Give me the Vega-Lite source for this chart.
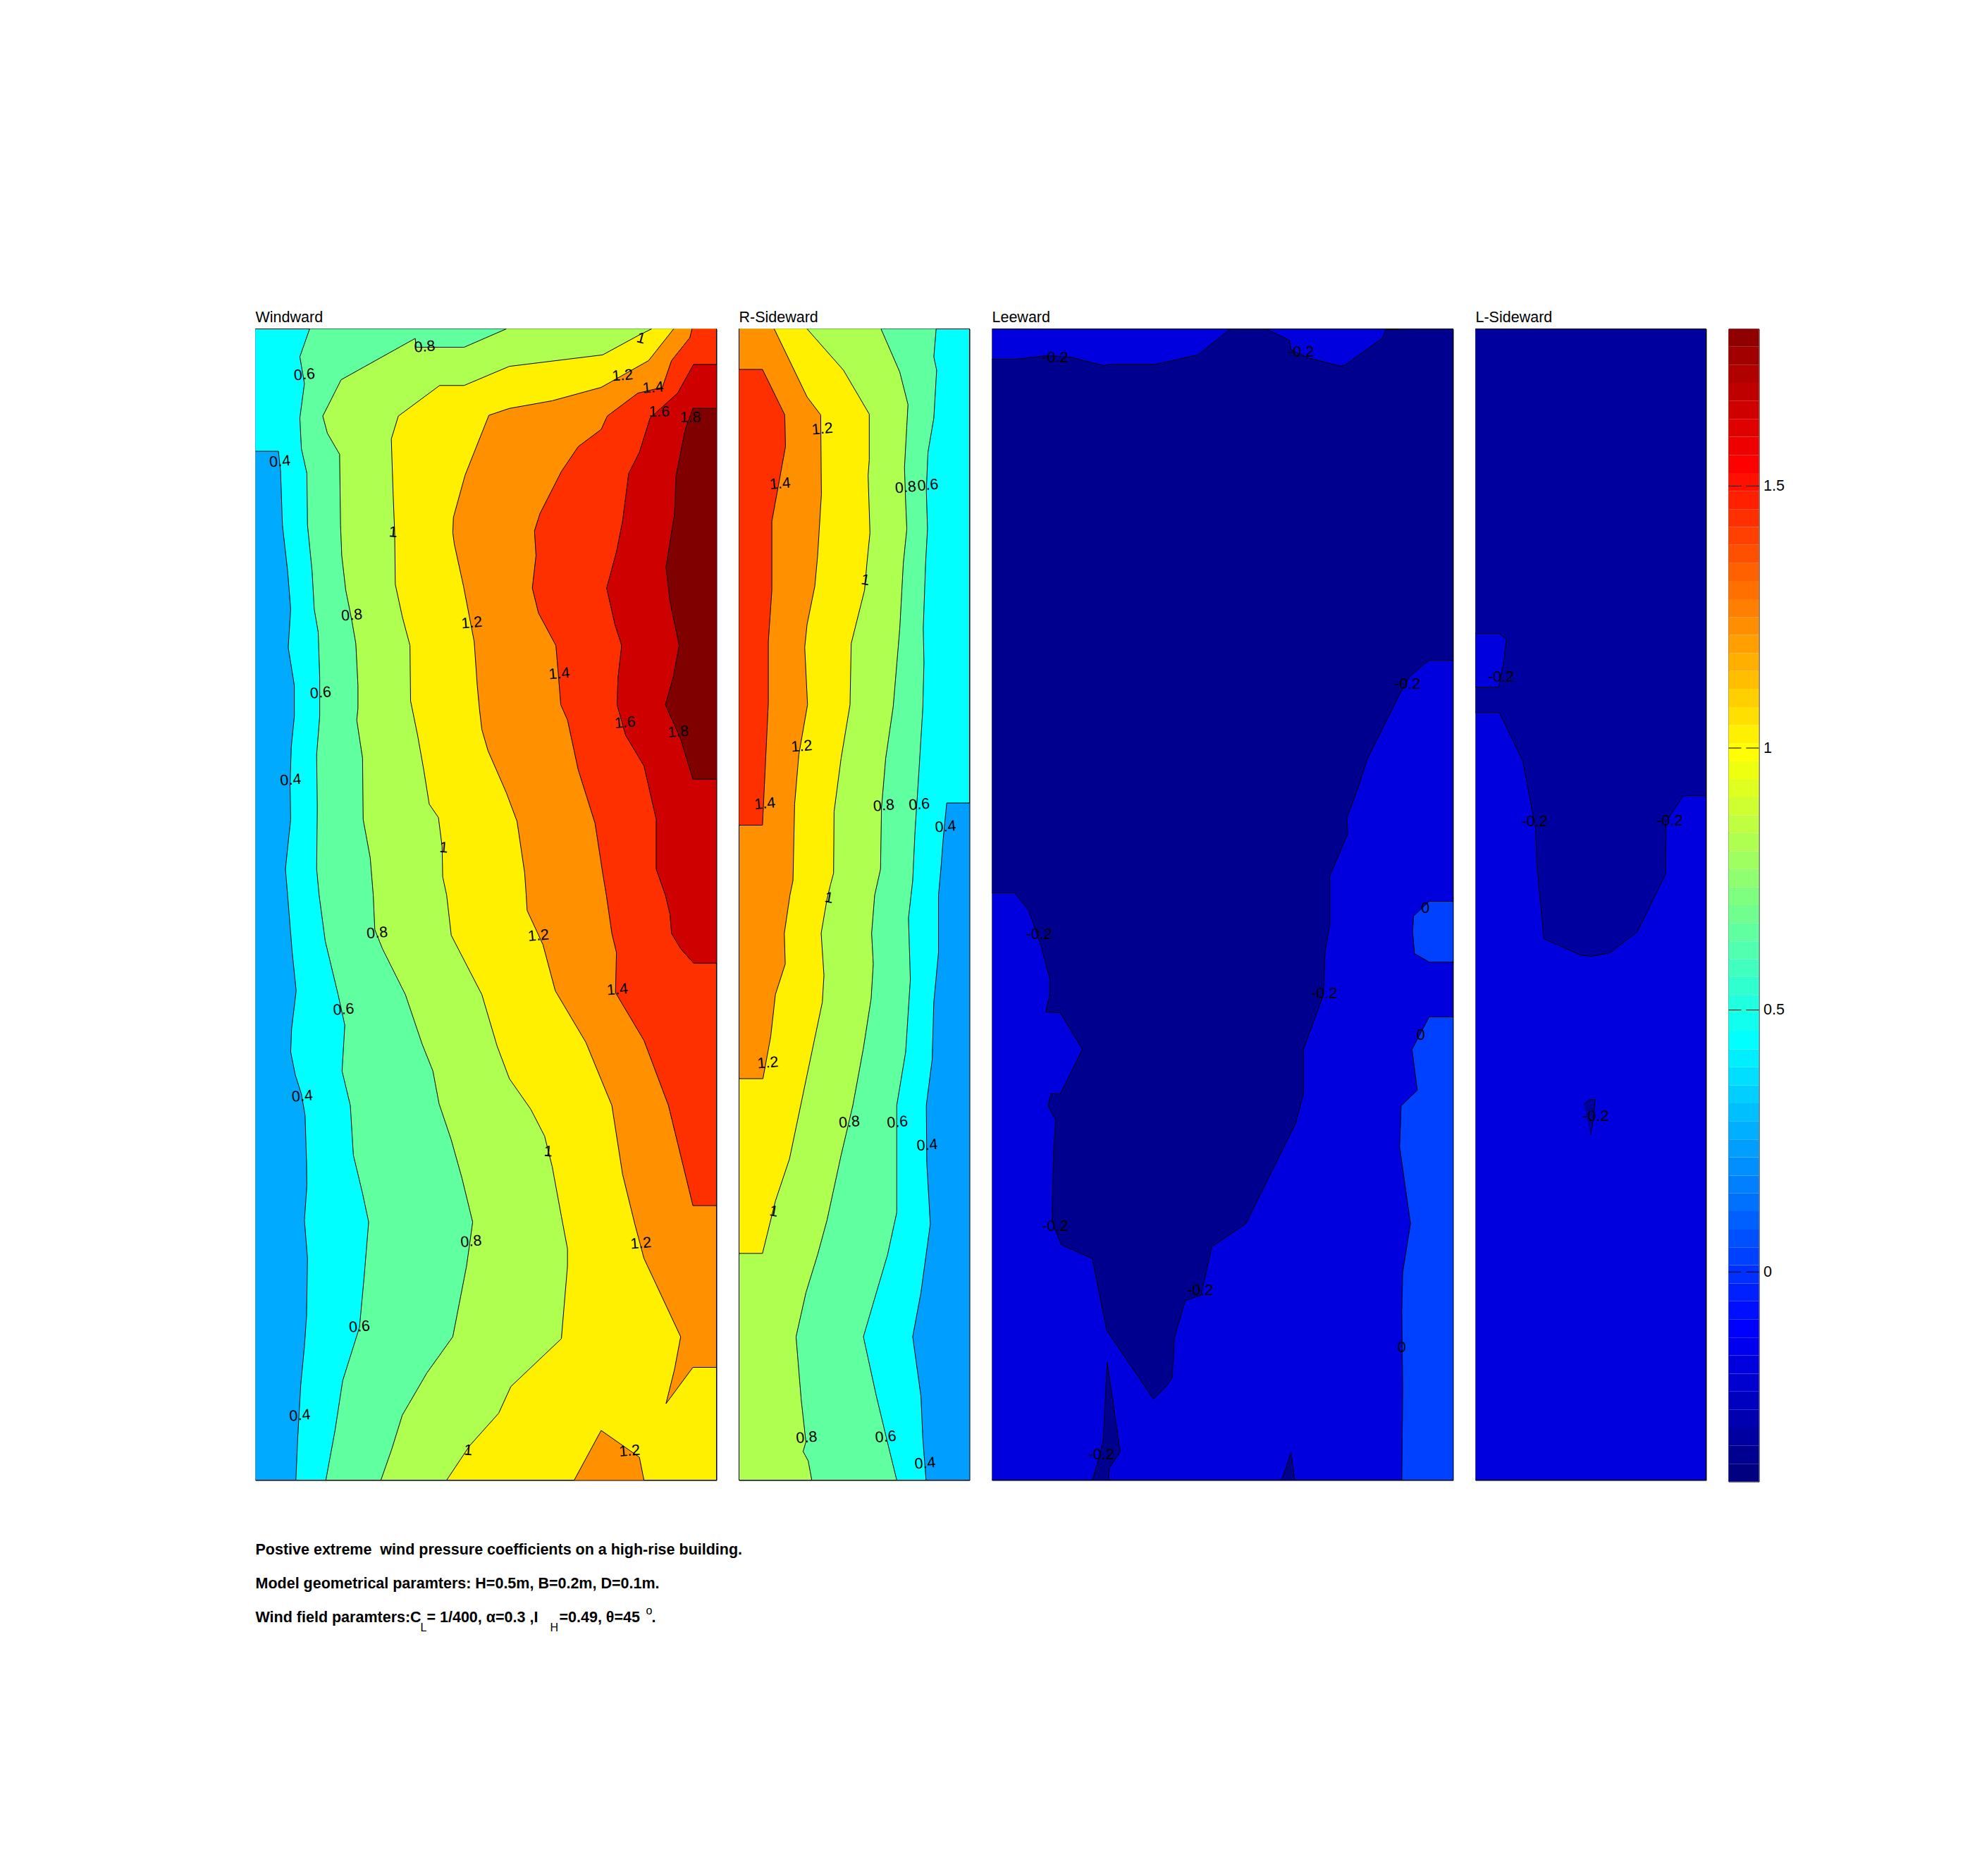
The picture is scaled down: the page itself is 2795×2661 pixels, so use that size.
{"$schema":"https://vega.github.io/schema/vega-lite/v6.json","background":"white","padding":{"left":359.5,"top":439.5,"right":0,"bottom":0},"config":{"font":"Liberation Sans","view":{"stroke":"#000","strokeWidth":1},"title":{"font":"Liberation Sans","fontSize":21.5,"fontWeight":"normal","anchor":"start","frame":"group","offset":3,"color":"#000"}},
"datasets":{
"windward":[
{"p":0,"l":0.2,"x":0,"y":0},{"p":0,"l":0.2,"x":1507,"y":0},{"p":0,"l":0.2,"x":1507,"y":3011},{"p":0,"l":0.2,"x":0,"y":3011},
{"p":1,"l":0.4,"x":0,"y":320},{"p":1,"l":0.4,"x":75,"y":320},{"p":1,"l":0.4,"x":82,"y":373},{"p":1,"l":0.4,"x":88,"y":513},{"p":1,"l":0.4,"x":105,"y":633},{"p":1,"l":0.4,"x":115,"y":733},{"p":1,"l":0.4,"x":107,"y":833},{"p":1,"l":0.4,"x":127,"y":933},{"p":1,"l":0.4,"x":127,"y":1013},{"p":1,"l":0.4,"x":117,"y":1093},{"p":1,"l":0.4,"x":113,"y":1193},{"p":1,"l":0.4,"x":115,"y":1283},{"p":1,"l":0.4,"x":103,"y":1373},{"p":1,"l":0.4,"x":98,"y":1413},{"p":1,"l":0.4,"x":105,"y":1481},{"p":1,"l":0.4,"x":120,"y":1631},{"p":1,"l":0.4,"x":133,"y":1731},{"p":1,"l":0.4,"x":118,"y":1831},{"p":1,"l":0.4,"x":115,"y":1891},{"p":1,"l":0.4,"x":130,"y":1951},{"p":1,"l":0.4,"x":150,"y":2001},{"p":1,"l":0.4,"x":162,"y":2056},{"p":1,"l":0.4,"x":167,"y":2181},{"p":1,"l":0.4,"x":168,"y":2241},{"p":1,"l":0.4,"x":160,"y":2331},{"p":1,"l":0.4,"x":170,"y":2431},{"p":1,"l":0.4,"x":167,"y":2581},{"p":1,"l":0.4,"x":160,"y":2661},{"p":1,"l":0.4,"x":148,"y":2761},{"p":1,"l":0.4,"x":138,"y":2901},{"p":1,"l":0.4,"x":132,"y":3011},{"p":1,"l":0.4,"x":1507,"y":3011},{"p":1,"l":0.4,"x":1507,"y":0},{"p":1,"l":0.4,"x":0,"y":0},
{"p":2,"l":0.6,"x":177,"y":0},{"p":2,"l":0.6,"x":145,"y":73},{"p":2,"l":0.6,"x":160,"y":143},{"p":2,"l":0.6,"x":145,"y":233},{"p":2,"l":0.6,"x":150,"y":313},{"p":2,"l":0.6,"x":168,"y":378},{"p":2,"l":0.6,"x":170,"y":513},{"p":2,"l":0.6,"x":185,"y":633},{"p":2,"l":0.6,"x":192,"y":733},{"p":2,"l":0.6,"x":205,"y":793},{"p":2,"l":0.6,"x":210,"y":913},{"p":2,"l":0.6,"x":210,"y":1013},{"p":2,"l":0.6,"x":200,"y":1113},{"p":2,"l":0.6,"x":202,"y":1253},{"p":2,"l":0.6,"x":200,"y":1413},{"p":2,"l":0.6,"x":208,"y":1481},{"p":2,"l":0.6,"x":228,"y":1601},{"p":2,"l":0.6,"x":270,"y":1741},{"p":2,"l":0.6,"x":292,"y":1821},{"p":2,"l":0.6,"x":283,"y":1941},{"p":2,"l":0.6,"x":310,"y":2031},{"p":2,"l":0.6,"x":320,"y":2161},{"p":2,"l":0.6,"x":350,"y":2261},{"p":2,"l":0.6,"x":370,"y":2336},{"p":2,"l":0.6,"x":355,"y":2481},{"p":2,"l":0.6,"x":340,"y":2611},{"p":2,"l":0.6,"x":285,"y":2751},{"p":2,"l":0.6,"x":260,"y":2881},{"p":2,"l":0.6,"x":230,"y":3011},{"p":2,"l":0.6,"x":1507,"y":3011},{"p":2,"l":0.6,"x":1507,"y":0},
{"p":3,"l":0.8,"x":820,"y":0},{"p":3,"l":0.8,"x":682,"y":48},{"p":3,"l":0.8,"x":525,"y":48},{"p":3,"l":0.8,"x":522,"y":25},{"p":3,"l":0.8,"x":280,"y":133},{"p":3,"l":0.8,"x":220,"y":228},{"p":3,"l":0.8,"x":235,"y":273},{"p":3,"l":0.8,"x":275,"y":328},{"p":3,"l":0.8,"x":278,"y":513},{"p":3,"l":0.8,"x":282,"y":593},{"p":3,"l":0.8,"x":295,"y":683},{"p":3,"l":0.8,"x":315,"y":763},{"p":3,"l":0.8,"x":328,"y":823},{"p":3,"l":0.8,"x":335,"y":933},{"p":3,"l":0.8,"x":335,"y":993},{"p":3,"l":0.8,"x":331,"y":1023},{"p":3,"l":0.8,"x":350,"y":1123},{"p":3,"l":0.8,"x":352,"y":1283},{"p":3,"l":0.8,"x":375,"y":1383},{"p":3,"l":0.8,"x":385,"y":1481},{"p":3,"l":0.8,"x":390,"y":1571},{"p":3,"l":0.8,"x":415,"y":1621},{"p":3,"l":0.8,"x":490,"y":1741},{"p":3,"l":0.8,"x":545,"y":1871},{"p":3,"l":0.8,"x":580,"y":1941},{"p":3,"l":0.8,"x":600,"y":2026},{"p":3,"l":0.8,"x":640,"y":2121},{"p":3,"l":0.8,"x":675,"y":2221},{"p":3,"l":0.8,"x":710,"y":2336},{"p":3,"l":0.8,"x":690,"y":2451},{"p":3,"l":0.8,"x":645,"y":2636},{"p":3,"l":0.8,"x":560,"y":2731},{"p":3,"l":0.8,"x":480,"y":2841},{"p":3,"l":0.8,"x":445,"y":2931},{"p":3,"l":0.8,"x":410,"y":3011},{"p":3,"l":0.8,"x":1507,"y":3011},{"p":3,"l":0.8,"x":1507,"y":0},
{"p":4,"l":1,"x":1295,"y":0},{"p":4,"l":1,"x":1250,"y":18},{"p":4,"l":1,"x":1135,"y":68},{"p":4,"l":1,"x":830,"y":98},{"p":4,"l":1,"x":682,"y":148},{"p":4,"l":1,"x":602,"y":148},{"p":4,"l":1,"x":467,"y":228},{"p":4,"l":1,"x":444,"y":288},{"p":4,"l":1,"x":450,"y":433},{"p":4,"l":1,"x":455,"y":533},{"p":4,"l":1,"x":457,"y":668},{"p":4,"l":1,"x":480,"y":753},{"p":4,"l":1,"x":505,"y":828},{"p":4,"l":1,"x":507,"y":973},{"p":4,"l":1,"x":530,"y":1063},{"p":4,"l":1,"x":550,"y":1153},{"p":4,"l":1,"x":568,"y":1243},{"p":4,"l":1,"x":598,"y":1278},{"p":4,"l":1,"x":610,"y":1353},{"p":4,"l":1,"x":612,"y":1433},{"p":4,"l":1,"x":625,"y":1481},{"p":4,"l":1,"x":640,"y":1586},{"p":4,"l":1,"x":740,"y":1741},{"p":4,"l":1,"x":790,"y":1876},{"p":4,"l":1,"x":830,"y":1961},{"p":4,"l":1,"x":900,"y":2041},{"p":4,"l":1,"x":945,"y":2111},{"p":4,"l":1,"x":970,"y":2191},{"p":4,"l":1,"x":1000,"y":2321},{"p":4,"l":1,"x":1020,"y":2406},{"p":4,"l":1,"x":1020,"y":2451},{"p":4,"l":1,"x":1000,"y":2641},{"p":4,"l":1,"x":835,"y":2766},{"p":4,"l":1,"x":795,"y":2836},{"p":4,"l":1,"x":700,"y":2921},{"p":4,"l":1,"x":625,"y":3011},{"p":4,"l":1,"x":1507,"y":3011},{"p":4,"l":1,"x":1507,"y":0},
{"p":5,"l":1.2,"x":1367,"y":0},{"p":5,"l":1.2,"x":1285,"y":83},{"p":5,"l":1.2,"x":1130,"y":153},{"p":5,"l":1.2,"x":970,"y":188},{"p":5,"l":1.2,"x":830,"y":208},{"p":5,"l":1.2,"x":763,"y":226},{"p":5,"l":1.2,"x":685,"y":383},{"p":5,"l":1.2,"x":647,"y":493},{"p":5,"l":1.2,"x":645,"y":533},{"p":5,"l":1.2,"x":650,"y":563},{"p":5,"l":1.2,"x":680,"y":673},{"p":5,"l":1.2,"x":715,"y":818},{"p":5,"l":1.2,"x":725,"y":933},{"p":5,"l":1.2,"x":732,"y":993},{"p":5,"l":1.2,"x":740,"y":1048},{"p":5,"l":1.2,"x":760,"y":1103},{"p":5,"l":1.2,"x":820,"y":1213},{"p":5,"l":1.2,"x":855,"y":1288},{"p":5,"l":1.2,"x":880,"y":1423},{"p":5,"l":1.2,"x":885,"y":1481},{"p":5,"l":1.2,"x":888,"y":1521},{"p":5,"l":1.2,"x":940,"y":1611},{"p":5,"l":1.2,"x":980,"y":1731},{"p":5,"l":1.2,"x":1080,"y":1866},{"p":5,"l":1.2,"x":1165,"y":2031},{"p":5,"l":1.2,"x":1200,"y":2211},{"p":5,"l":1.2,"x":1240,"y":2341},{"p":5,"l":1.2,"x":1270,"y":2431},{"p":5,"l":1.2,"x":1390,"y":2636},{"p":5,"l":1.2,"x":1370,"y":2721},{"p":5,"l":1.2,"x":1342,"y":2811},{"p":5,"l":1.2,"x":1430,"y":2716},{"p":5,"l":1.2,"x":1507,"y":2716},{"p":5,"l":1.2,"x":1507,"y":0},
{"p":6,"l":1.2,"x":1042,"y":3011},{"p":6,"l":1.2,"x":1130,"y":2881},{"p":6,"l":1.2,"x":1255,"y":2951},{"p":6,"l":1.2,"x":1270,"y":3011},
{"p":7,"l":1.4,"x":1427,"y":0},{"p":7,"l":1.4,"x":1420,"y":23},{"p":7,"l":1.4,"x":1360,"y":83},{"p":7,"l":1.4,"x":1330,"y":153},{"p":7,"l":1.4,"x":1250,"y":168},{"p":7,"l":1.4,"x":1150,"y":228},{"p":7,"l":1.4,"x":1130,"y":263},{"p":7,"l":1.4,"x":1055,"y":308},{"p":7,"l":1.4,"x":1000,"y":373},{"p":7,"l":1.4,"x":930,"y":483},{"p":7,"l":1.4,"x":912,"y":528},{"p":7,"l":1.4,"x":917,"y":593},{"p":7,"l":1.4,"x":905,"y":678},{"p":7,"l":1.4,"x":925,"y":743},{"p":7,"l":1.4,"x":982,"y":828},{"p":7,"l":1.4,"x":990,"y":903},{"p":7,"l":1.4,"x":998,"y":983},{"p":7,"l":1.4,"x":1020,"y":1023},{"p":7,"l":1.4,"x":1055,"y":1153},{"p":7,"l":1.4,"x":1110,"y":1293},{"p":7,"l":1.4,"x":1135,"y":1423},{"p":7,"l":1.4,"x":1147,"y":1481},{"p":7,"l":1.4,"x":1165,"y":1581},{"p":7,"l":1.4,"x":1180,"y":1631},{"p":7,"l":1.4,"x":1177,"y":1736},{"p":7,"l":1.4,"x":1270,"y":1861},{"p":7,"l":1.4,"x":1350,"y":2031},{"p":7,"l":1.4,"x":1430,"y":2293},{"p":7,"l":1.4,"x":1507,"y":2293},{"p":7,"l":1.4,"x":1507,"y":0},
{"p":8,"l":1.6,"x":1507,"y":93},{"p":8,"l":1.6,"x":1432,"y":93},{"p":8,"l":1.6,"x":1380,"y":168},{"p":8,"l":1.6,"x":1290,"y":233},{"p":8,"l":1.6,"x":1255,"y":323},{"p":8,"l":1.6,"x":1220,"y":378},{"p":8,"l":1.6,"x":1200,"y":503},{"p":8,"l":1.6,"x":1180,"y":583},{"p":8,"l":1.6,"x":1148,"y":678},{"p":8,"l":1.6,"x":1175,"y":773},{"p":8,"l":1.6,"x":1197,"y":828},{"p":8,"l":1.6,"x":1185,"y":913},{"p":8,"l":1.6,"x":1182,"y":983},{"p":8,"l":1.6,"x":1210,"y":1063},{"p":8,"l":1.6,"x":1270,"y":1143},{"p":8,"l":1.6,"x":1310,"y":1283},{"p":8,"l":1.6,"x":1310,"y":1413},{"p":8,"l":1.6,"x":1340,"y":1481},{"p":8,"l":1.6,"x":1355,"y":1531},{"p":8,"l":1.6,"x":1360,"y":1581},{"p":8,"l":1.6,"x":1390,"y":1621},{"p":8,"l":1.6,"x":1432,"y":1659},{"p":8,"l":1.6,"x":1507,"y":1659},
{"p":9,"l":1.8,"x":1507,"y":208},{"p":9,"l":1.8,"x":1430,"y":208},{"p":9,"l":1.8,"x":1405,"y":263},{"p":9,"l":1.8,"x":1375,"y":383},{"p":9,"l":1.8,"x":1370,"y":483},{"p":9,"l":1.8,"x":1342,"y":623},{"p":9,"l":1.8,"x":1355,"y":713},{"p":9,"l":1.8,"x":1385,"y":828},{"p":9,"l":1.8,"x":1365,"y":913},{"p":9,"l":1.8,"x":1340,"y":983},{"p":9,"l":1.8,"x":1390,"y":1073},{"p":9,"l":1.8,"x":1430,"y":1178},{"p":9,"l":1.8,"x":1507,"y":1178}
],
"windwardLabels":[
{"t":"0.8","x":553,"y":48,"a":-5},{"t":"1","x":1260,"y":26,"a":15},{"t":"0.6","x":160,"y":121,"a":-5},{"t":"1.2","x":1200,"y":123,"a":-5},{"t":"1.4","x":1300,"y":155,"a":-5},{"t":"1.6","x":1320,"y":218,"a":0},{"t":"1.8","x":1422,"y":233,"a":0},{"t":"0.4","x":80,"y":348,"a":-5},{"t":"1","x":450,"y":533,"a":5},{"t":"0.8","x":315,"y":750,"a":-5},{"t":"1.2","x":707,"y":770,"a":-5},{"t":"1.4","x":993,"y":903,"a":-5},{"t":"0.6","x":213,"y":953,"a":-5},{"t":"1.6","x":1208,"y":1031,"a":-5},{"t":"1.8","x":1382,"y":1055,"a":-5},{"t":"0.4","x":115,"y":1181,"a":-5},{"t":"1","x":615,"y":1358,"a":5},{"t":"0.8","x":398,"y":1581,"a":-5},{"t":"1.2","x":925,"y":1588,"a":-5},{"t":"1.4","x":1183,"y":1729,"a":-5},{"t":"0.6","x":288,"y":1781,"a":-5},{"t":"0.4","x":153,"y":2008,"a":-5},{"t":"1","x":957,"y":2153,"a":5},{"t":"0.8","x":705,"y":2388,"a":-5},{"t":"1.2","x":1260,"y":2393,"a":-5},{"t":"0.6","x":340,"y":2611,"a":-5},{"t":"0.4","x":145,"y":2843,"a":-5},{"t":"1","x":695,"y":2934,"a":5},{"t":"1.2","x":1223,"y":2936,"a":-5}
],
"rside":[
{"p":0,"l":0.4,"x":0,"y":0},{"p":0,"l":0.4,"x":982,"y":0},{"p":0,"l":0.4,"x":982,"y":3011},{"p":0,"l":0.4,"x":0,"y":3011},
{"p":1,"l":0.2,"x":982,"y":1240},{"p":1,"l":0.2,"x":885,"y":1240},{"p":1,"l":0.2,"x":870,"y":1333},{"p":1,"l":0.2,"x":860,"y":1413},{"p":1,"l":0.2,"x":850,"y":1481},{"p":1,"l":0.2,"x":850,"y":1631},{"p":1,"l":0.2,"x":830,"y":1761},{"p":1,"l":0.2,"x":823,"y":1911},{"p":1,"l":0.2,"x":798,"y":2031},{"p":1,"l":0.2,"x":800,"y":2181},{"p":1,"l":0.2,"x":815,"y":2341},{"p":1,"l":0.2,"x":775,"y":2521},{"p":1,"l":0.2,"x":740,"y":2636},{"p":1,"l":0.2,"x":775,"y":2791},{"p":1,"l":0.2,"x":783,"y":2901},{"p":1,"l":0.2,"x":797,"y":3011},{"p":1,"l":0.2,"x":982,"y":3011},
{"p":2,"l":0.6,"x":840,"y":0},{"p":2,"l":0.6,"x":830,"y":73},{"p":2,"l":0.6,"x":842,"y":108},{"p":2,"l":0.6,"x":830,"y":233},{"p":2,"l":0.6,"x":805,"y":323},{"p":2,"l":0.6,"x":798,"y":423},{"p":2,"l":0.6,"x":803,"y":523},{"p":2,"l":0.6,"x":795,"y":613},{"p":2,"l":0.6,"x":785,"y":783},{"p":2,"l":0.6,"x":788,"y":873},{"p":2,"l":0.6,"x":783,"y":993},{"p":2,"l":0.6,"x":767,"y":1153},{"p":2,"l":0.6,"x":750,"y":1313},{"p":2,"l":0.6,"x":740,"y":1443},{"p":2,"l":0.6,"x":733,"y":1481},{"p":2,"l":0.6,"x":722,"y":1541},{"p":2,"l":0.6,"x":730,"y":1701},{"p":2,"l":0.6,"x":710,"y":1891},{"p":2,"l":0.6,"x":672,"y":2031},{"p":2,"l":0.6,"x":672,"y":2311},{"p":2,"l":0.6,"x":633,"y":2421},{"p":2,"l":0.6,"x":585,"y":2521},{"p":2,"l":0.6,"x":530,"y":2636},{"p":2,"l":0.6,"x":585,"y":2791},{"p":2,"l":0.6,"x":640,"y":2931},{"p":2,"l":0.6,"x":672,"y":3011},{"p":2,"l":0.6,"x":0,"y":3011},{"p":2,"l":0.6,"x":0,"y":0},
{"p":3,"l":0.8,"x":605,"y":0},{"p":3,"l":0.8,"x":685,"y":113},{"p":3,"l":0.8,"x":720,"y":198},{"p":3,"l":0.8,"x":715,"y":253},{"p":3,"l":0.8,"x":705,"y":363},{"p":3,"l":0.8,"x":710,"y":453},{"p":3,"l":0.8,"x":715,"y":523},{"p":3,"l":0.8,"x":700,"y":613},{"p":3,"l":0.8,"x":685,"y":783},{"p":3,"l":0.8,"x":657,"y":988},{"p":3,"l":0.8,"x":625,"y":1123},{"p":3,"l":0.8,"x":607,"y":1253},{"p":3,"l":0.8,"x":603,"y":1413},{"p":3,"l":0.8,"x":578,"y":1481},{"p":3,"l":0.8,"x":565,"y":1581},{"p":3,"l":0.8,"x":572,"y":1661},{"p":3,"l":0.8,"x":563,"y":1751},{"p":3,"l":0.8,"x":530,"y":1881},{"p":3,"l":0.8,"x":485,"y":2031},{"p":3,"l":0.8,"x":435,"y":2161},{"p":3,"l":0.8,"x":375,"y":2331},{"p":3,"l":0.8,"x":335,"y":2421},{"p":3,"l":0.8,"x":285,"y":2521},{"p":3,"l":0.8,"x":243,"y":2636},{"p":3,"l":0.8,"x":265,"y":2801},{"p":3,"l":0.8,"x":285,"y":2911},{"p":3,"l":0.8,"x":273,"y":2936},{"p":3,"l":0.8,"x":295,"y":2961},{"p":3,"l":0.8,"x":310,"y":3011},{"p":3,"l":0.8,"x":0,"y":3011},{"p":3,"l":0.8,"x":0,"y":0},
{"p":4,"l":1,"x":290,"y":0},{"p":4,"l":1,"x":445,"y":108},{"p":4,"l":1,"x":555,"y":223},{"p":4,"l":1,"x":555,"y":343},{"p":4,"l":1,"x":550,"y":383},{"p":4,"l":1,"x":558,"y":533},{"p":4,"l":1,"x":545,"y":613},{"p":4,"l":1,"x":535,"y":683},{"p":4,"l":1,"x":478,"y":823},{"p":4,"l":1,"x":473,"y":983},{"p":4,"l":1,"x":435,"y":1123},{"p":4,"l":1,"x":405,"y":1263},{"p":4,"l":1,"x":403,"y":1423},{"p":4,"l":1,"x":390,"y":1453},{"p":4,"l":1,"x":375,"y":1491},{"p":4,"l":1,"x":350,"y":1581},{"p":4,"l":1,"x":362,"y":1691},{"p":4,"l":1,"x":355,"y":1761},{"p":4,"l":1,"x":290,"y":1951},{"p":4,"l":1,"x":215,"y":2171},{"p":4,"l":1,"x":155,"y":2281},{"p":4,"l":1,"x":100,"y":2418},{"p":4,"l":1,"x":0,"y":2418},{"p":4,"l":1,"x":0,"y":0},
{"p":5,"l":1.2,"x":150,"y":0},{"p":5,"l":1.2,"x":290,"y":178},{"p":5,"l":1.2,"x":348,"y":225},{"p":5,"l":1.2,"x":351,"y":433},{"p":5,"l":1.2,"x":335,"y":593},{"p":5,"l":1.2,"x":323,"y":673},{"p":5,"l":1.2,"x":290,"y":773},{"p":5,"l":1.2,"x":280,"y":833},{"p":5,"l":1.2,"x":292,"y":983},{"p":5,"l":1.2,"x":255,"y":1113},{"p":5,"l":1.2,"x":237,"y":1243},{"p":5,"l":1.2,"x":230,"y":1443},{"p":5,"l":1.2,"x":217,"y":1481},{"p":5,"l":1.2,"x":193,"y":1581},{"p":5,"l":1.2,"x":197,"y":1661},{"p":5,"l":1.2,"x":155,"y":1741},{"p":5,"l":1.2,"x":135,"y":1851},{"p":5,"l":1.2,"x":102,"y":1961},{"p":5,"l":1.2,"x":0,"y":1961},{"p":5,"l":1.2,"x":0,"y":0},
{"p":6,"l":1.4,"x":0,"y":106},{"p":6,"l":1.4,"x":100,"y":106},{"p":6,"l":1.4,"x":195,"y":225},{"p":6,"l":1.4,"x":198,"y":308},{"p":6,"l":1.4,"x":140,"y":503},{"p":6,"l":1.4,"x":140,"y":683},{"p":6,"l":1.4,"x":125,"y":818},{"p":6,"l":1.4,"x":125,"y":978},{"p":6,"l":1.4,"x":100,"y":1298},{"p":6,"l":1.4,"x":0,"y":1298}
],
"rsideLabels":[
{"t":"1.2","x":355,"y":263,"a":-5},{"t":"1.4","x":175,"y":406,"a":-5},{"t":"0.8","x":710,"y":416,"a":-5},{"t":"0.6","x":805,"y":410,"a":-5},{"t":"1","x":538,"y":658,"a":10},{"t":"1.2","x":267,"y":1093,"a":-5},{"t":"1.4","x":110,"y":1243,"a":-5},{"t":"0.8","x":617,"y":1248,"a":-5},{"t":"0.6","x":768,"y":1245,"a":-5},{"t":"0.4","x":880,"y":1303,"a":-5},{"t":"1","x":383,"y":1489,"a":10},{"t":"1.2","x":123,"y":1921,"a":-5},{"t":"0.8","x":470,"y":2076,"a":-5},{"t":"0.6","x":675,"y":2076,"a":-5},{"t":"0.4","x":802,"y":2136,"a":-5},{"t":"1","x":148,"y":2309,"a":10},{"t":"0.8","x":288,"y":2901,"a":-5},{"t":"0.6","x":625,"y":2899,"a":-5},{"t":"0.4","x":793,"y":2968,"a":-5}
],
"leeward":[
{"p":0,"l":-0.2,"x":0,"y":0},{"p":0,"l":-0.2,"x":1485,"y":0},{"p":0,"l":-0.2,"x":1485,"y":1633},{"p":0,"l":-0.2,"x":0,"y":1633},
{"p":1,"l":-0.4,"x":0,"y":43},{"p":1,"l":-0.4,"x":78,"y":43},{"p":1,"l":-0.4,"x":178,"y":38},{"p":1,"l":-0.4,"x":253,"y":40},{"p":1,"l":-0.4,"x":358,"y":52},{"p":1,"l":-0.4,"x":388,"y":50},{"p":1,"l":-0.4,"x":528,"y":50},{"p":1,"l":-0.4,"x":663,"y":37},{"p":1,"l":-0.4,"x":768,"y":0},{"p":1,"l":-0.4,"x":883,"y":0},{"p":1,"l":-0.4,"x":958,"y":16},{"p":1,"l":-0.4,"x":963,"y":30},{"p":1,"l":-0.4,"x":1018,"y":41},{"p":1,"l":-0.4,"x":1123,"y":53},{"p":1,"l":-0.4,"x":1138,"y":51},{"p":1,"l":-0.4,"x":1258,"y":13},{"p":1,"l":-0.4,"x":1268,"y":1},{"p":1,"l":-0.4,"x":1358,"y":0},{"p":1,"l":-0.4,"x":1485,"y":0},{"p":1,"l":-0.4,"x":1485,"y":470},{"p":1,"l":-0.4,"x":1408,"y":470},{"p":1,"l":-0.4,"x":1348,"y":492},{"p":1,"l":-0.4,"x":1318,"y":514},{"p":1,"l":-0.4,"x":1208,"y":611},{"p":1,"l":-0.4,"x":1183,"y":646},{"p":1,"l":-0.4,"x":1143,"y":694},{"p":1,"l":-0.4,"x":1146,"y":716},{"p":1,"l":-0.4,"x":1088,"y":776},{"p":1,"l":-0.4,"x":1088,"y":844},{"p":1,"l":-0.4,"x":1073,"y":883},{"p":1,"l":-0.4,"x":1068,"y":944},{"p":1,"l":-0.4,"x":1003,"y":1022},{"p":1,"l":-0.4,"x":1003,"y":1085},{"p":1,"l":-0.4,"x":978,"y":1127},{"p":1,"l":-0.4,"x":818,"y":1269},{"p":1,"l":-0.4,"x":708,"y":1302},{"p":1,"l":-0.4,"x":673,"y":1371},{"p":1,"l":-0.4,"x":623,"y":1378},{"p":1,"l":-0.4,"x":588,"y":1430},{"p":1,"l":-0.4,"x":580,"y":1488},{"p":1,"l":-0.4,"x":563,"y":1499},{"p":1,"l":-0.4,"x":520,"y":1518},{"p":1,"l":-0.4,"x":370,"y":1421},{"p":1,"l":-0.4,"x":323,"y":1319},{"p":1,"l":-0.4,"x":223,"y":1299},{"p":1,"l":-0.4,"x":193,"y":1266},{"p":1,"l":-0.4,"x":198,"y":1171},{"p":1,"l":-0.4,"x":205,"y":1122},{"p":1,"l":-0.4,"x":180,"y":1102},{"p":1,"l":-0.4,"x":190,"y":1085},{"p":1,"l":-0.4,"x":220,"y":1085},{"p":1,"l":-0.4,"x":291,"y":1022},{"p":1,"l":-0.4,"x":220,"y":970},{"p":1,"l":-0.4,"x":173,"y":969},{"p":1,"l":-0.4,"x":186,"y":944},{"p":1,"l":-0.4,"x":186,"y":922},{"p":1,"l":-0.4,"x":158,"y":875},{"p":1,"l":-0.4,"x":118,"y":825},{"p":1,"l":-0.4,"x":73,"y":800},{"p":1,"l":-0.4,"x":0,"y":800},
{"p":2,"l":-0.4,"x":323,"y":1633},{"p":2,"l":-0.4,"x":343,"y":1604},{"p":2,"l":-0.4,"x":358,"y":1577},{"p":2,"l":-0.4,"x":371,"y":1466},{"p":2,"l":-0.4,"x":413,"y":1593},{"p":2,"l":-0.4,"x":378,"y":1616},{"p":2,"l":-0.4,"x":375,"y":1633},
{"p":3,"l":-0.4,"x":933,"y":1633},{"p":3,"l":-0.4,"x":963,"y":1594},{"p":3,"l":-0.4,"x":975,"y":1633},
{"p":4,"l":0,"x":1485,"y":812},{"p":4,"l":0,"x":1408,"y":812},{"p":4,"l":0,"x":1358,"y":833},{"p":4,"l":0,"x":1355,"y":855},{"p":4,"l":0,"x":1361,"y":886},{"p":4,"l":0,"x":1408,"y":898},{"p":4,"l":0,"x":1485,"y":898},
{"p":5,"l":0,"x":1485,"y":976},{"p":5,"l":0,"x":1408,"y":976},{"p":5,"l":0,"x":1353,"y":1022},{"p":5,"l":0,"x":1370,"y":1080},{"p":5,"l":0,"x":1318,"y":1102},{"p":5,"l":0,"x":1313,"y":1160},{"p":5,"l":0,"x":1348,"y":1269},{"p":5,"l":0,"x":1323,"y":1338},{"p":5,"l":0,"x":1320,"y":1394},{"p":5,"l":0,"x":1323,"y":1505},{"p":5,"l":0,"x":1320,"y":1633},{"p":5,"l":0,"x":1485,"y":1633}
],
"leewardLabels":[
{"t":"-0.2","x":203,"y":41,"a":0},{"t":"-0.2","x":995,"y":33,"a":0},{"t":"-0.2","x":1338,"y":504,"a":0},{"t":"-0.2","x":151,"y":859,"a":0},{"t":"-0.2","x":1070,"y":943,"a":0},{"t":"-0.2","x":203,"y":1273,"a":0},{"t":"-0.2","x":670,"y":1364,"a":0},{"t":"-0.2","x":351,"y":1597,"a":0},{"t":"0","x":1396,"y":822,"a":0},{"t":"0","x":1381,"y":1002,"a":0},{"t":"0","x":1320,"y":1445,"a":0}
],
"lside":[
{"p":0,"l":-0.2,"x":0,"y":0},{"p":0,"l":-0.2,"x":981,"y":0},{"p":0,"l":-0.2,"x":981,"y":1633},{"p":0,"l":-0.2,"x":0,"y":1633},
{"p":1,"l":-0.4,"x":0,"y":0},{"p":1,"l":-0.4,"x":981,"y":0},{"p":1,"l":-0.4,"x":981,"y":662},{"p":1,"l":-0.4,"x":884,"y":662},{"p":1,"l":-0.4,"x":811,"y":699},{"p":1,"l":-0.4,"x":809,"y":773},{"p":1,"l":-0.4,"x":689,"y":855},{"p":1,"l":-0.4,"x":571,"y":885},{"p":1,"l":-0.4,"x":491,"y":890},{"p":1,"l":-0.4,"x":446,"y":888},{"p":1,"l":-0.4,"x":291,"y":865},{"p":1,"l":-0.4,"x":261,"y":760},{"p":1,"l":-0.4,"x":256,"y":709},{"p":1,"l":-0.4,"x":201,"y":613},{"p":1,"l":-0.4,"x":101,"y":544},{"p":1,"l":-0.4,"x":0,"y":544},
{"p":2,"l":-0.2,"x":0,"y":432},{"p":2,"l":-0.2,"x":101,"y":432},{"p":2,"l":-0.2,"x":131,"y":440},{"p":2,"l":-0.2,"x":121,"y":470},{"p":2,"l":-0.2,"x":99,"y":508},{"p":2,"l":-0.2,"x":0,"y":508},
{"p":3,"l":-0.4,"x":461,"y":1100},{"p":3,"l":-0.4,"x":486,"y":1093},{"p":3,"l":-0.4,"x":509,"y":1093},{"p":3,"l":-0.4,"x":501,"y":1122},{"p":3,"l":-0.4,"x":489,"y":1143}
],
"lsideLabels":[
{"t":"-0.2","x":108,"y":494,"a":0},{"t":"-0.2","x":251,"y":699,"a":0},{"t":"-0.2","x":826,"y":698,"a":0},{"t":"-0.2","x":511,"y":1117,"a":0}
]},
"vconcat":[
{"hconcat":[
{"title":"Windward","width":654,"height":1633,"layer":[
{"data":{"name":"windward"},"mark":{"type":"line","stroke":"#000","strokeWidth":1},"encoding":{"x":{"field":"x","type":"quantitative","scale":{"domain":[0,1507],"nice":false,"zero":false},"axis":null},"y":{"field":"y","type":"quantitative","scale":{"domain":[0,3011],"reverse":true,"nice":false,"zero":false},"axis":null},"detail":{"field":"p"},"order":{"value":null},"fill":{"field":"l","type":"ordinal","legend":null,"scale":{"domain":[-0.4,-0.2,0,0.2,0.4,0.6,0.8,1,1.2,1.4,1.6,1.8],"range":["#00008F","#0000DF","#0040FF","#00AAFF","#00FFFF","#60FF9F","#AFFF50","#FFF000","#FF9000","#FF3000","#CF0000","#800000"]}}}},
{"data":{"name":"windwardLabels"},"mark":{"type":"text","fontSize":21.5,"font":"Liberation Sans","color":"#000"},"encoding":{"x":{"field":"x","type":"quantitative"},"y":{"field":"y","type":"quantitative"},"text":{"field":"t"},"angle":{"field":"a","type":"quantitative","scale":null}}}
]},
{"title":"R-Sideward","width":327,"height":1633,"layer":[
{"data":{"name":"rside"},"mark":{"type":"line","stroke":"#000","strokeWidth":1},"encoding":{"x":{"field":"x","type":"quantitative","scale":{"domain":[0,982],"nice":false,"zero":false},"axis":null},"y":{"field":"y","type":"quantitative","scale":{"domain":[0,3011],"reverse":true,"nice":false,"zero":false},"axis":null},"detail":{"field":"p"},"order":{"value":null},"fill":{"field":"l","type":"ordinal","legend":null,"scale":{"domain":[-0.4,-0.2,0,0.2,0.4,0.6,0.8,1,1.2,1.4,1.6,1.8],"range":["#00008F","#0000DF","#0040FF","#009FFF","#00FFFF","#60FF9F","#AFFF50","#FFF000","#FF9000","#FF3000","#CF0000","#800000"]}}}},
{"data":{"name":"rsideLabels"},"mark":{"type":"text","fontSize":21.5,"font":"Liberation Sans","color":"#000"},"encoding":{"x":{"field":"x","type":"quantitative"},"y":{"field":"y","type":"quantitative"},"text":{"field":"t"},"angle":{"field":"a","type":"quantitative","scale":null}}}
]},
{"title":"Leeward","width":654,"height":1633,"layer":[
{"data":{"name":"leeward"},"mark":{"type":"line","stroke":"#000","strokeWidth":1},"encoding":{"x":{"field":"x","type":"quantitative","scale":{"domain":[0,1485],"nice":false,"zero":false},"axis":null},"y":{"field":"y","type":"quantitative","scale":{"domain":[0,1633],"reverse":true,"nice":false,"zero":false},"axis":null},"detail":{"field":"p"},"order":{"value":null},"fill":{"field":"l","type":"ordinal","legend":null,"scale":{"domain":[-0.4,-0.2,0,0.2,0.4,0.6,0.8,1,1.2,1.4,1.6,1.8],"range":["#00008F","#0000DF","#0040FF","#00AAFF","#00FFFF","#60FF9F","#AFFF50","#FFF000","#FF9000","#FF3000","#CF0000","#800000"]}}}},
{"data":{"name":"leewardLabels"},"mark":{"type":"text","fontSize":21.5,"font":"Liberation Sans","color":"#000"},"encoding":{"x":{"field":"x","type":"quantitative"},"y":{"field":"y","type":"quantitative"},"text":{"field":"t"},"angle":{"field":"a","type":"quantitative","scale":null}}}
]},
{"title":"L-Sideward","width":327,"height":1633,"layer":[
{"data":{"name":"lside"},"mark":{"type":"line","stroke":"#000","strokeWidth":1},"encoding":{"x":{"field":"x","type":"quantitative","scale":{"domain":[0,981],"nice":false,"zero":false},"axis":null},"y":{"field":"y","type":"quantitative","scale":{"domain":[0,1633],"reverse":true,"nice":false,"zero":false},"axis":null},"detail":{"field":"p"},"order":{"value":null},"fill":{"field":"l","type":"ordinal","legend":null,"scale":{"domain":[-0.4,-0.2,0,0.2,0.4,0.6,0.8,1,1.2,1.4,1.6,1.8],"range":["#00009F","#0000DF","#0040FF","#00AAFF","#00FFFF","#60FF9F","#AFFF50","#FFF000","#FF9000","#FF3000","#CF0000","#800000"]}}}},
{"data":{"name":"lsideLabels"},"mark":{"type":"text","fontSize":21.5,"font":"Liberation Sans","color":"#000"},"encoding":{"x":{"field":"x","type":"quantitative"},"y":{"field":"y","type":"quantitative"},"text":{"field":"t"},"angle":{"field":"a","type":"quantitative","scale":null}}}
]},
{"title":" ","width":43,"height":1635,"layer":[
{"data":{"values":[{"lo":-0.4,"hi":-0.366},{"lo":-0.366,"hi":-0.331},{"lo":-0.331,"hi":-0.297},{"lo":-0.297,"hi":-0.263},{"lo":-0.263,"hi":-0.228},{"lo":-0.228,"hi":-0.194},{"lo":-0.194,"hi":-0.159},{"lo":-0.159,"hi":-0.125},{"lo":-0.125,"hi":-0.091},{"lo":-0.091,"hi":-0.056},{"lo":-0.056,"hi":-0.022},{"lo":-0.022,"hi":0.013},{"lo":0.013,"hi":0.047},{"lo":0.047,"hi":0.081},{"lo":0.081,"hi":0.116},{"lo":0.116,"hi":0.15},{"lo":0.15,"hi":0.184},{"lo":0.184,"hi":0.219},{"lo":0.219,"hi":0.253},{"lo":0.253,"hi":0.288},{"lo":0.288,"hi":0.322},{"lo":0.322,"hi":0.356},{"lo":0.356,"hi":0.391},{"lo":0.391,"hi":0.425},{"lo":0.425,"hi":0.459},{"lo":0.459,"hi":0.494},{"lo":0.494,"hi":0.528},{"lo":0.528,"hi":0.563},{"lo":0.563,"hi":0.597},{"lo":0.597,"hi":0.631},{"lo":0.631,"hi":0.666},{"lo":0.666,"hi":0.7},{"lo":0.7,"hi":0.734},{"lo":0.734,"hi":0.769},{"lo":0.769,"hi":0.803},{"lo":0.803,"hi":0.838},{"lo":0.838,"hi":0.872},{"lo":0.872,"hi":0.906},{"lo":0.906,"hi":0.941},{"lo":0.941,"hi":0.975},{"lo":0.975,"hi":1.009},{"lo":1.009,"hi":1.044},{"lo":1.044,"hi":1.078},{"lo":1.078,"hi":1.113},{"lo":1.113,"hi":1.147},{"lo":1.147,"hi":1.181},{"lo":1.181,"hi":1.216},{"lo":1.216,"hi":1.25},{"lo":1.25,"hi":1.284},{"lo":1.284,"hi":1.319},{"lo":1.319,"hi":1.353},{"lo":1.353,"hi":1.388},{"lo":1.388,"hi":1.422},{"lo":1.422,"hi":1.456},{"lo":1.456,"hi":1.491},{"lo":1.491,"hi":1.525},{"lo":1.525,"hi":1.559},{"lo":1.559,"hi":1.594},{"lo":1.594,"hi":1.628},{"lo":1.628,"hi":1.663},{"lo":1.663,"hi":1.697},{"lo":1.697,"hi":1.731},{"lo":1.731,"hi":1.766},{"lo":1.766,"hi":1.8}]},"mark":{"type":"rect","stroke":null},"encoding":{"y":{"field":"lo","type":"quantitative","scale":{"domain":[-0.4,1.8],"nice":false,"zero":false},"axis":{"orient":"right","values":[0,0.5,1,1.5],"ticks":false,"domain":false,"grid":false,"title":null,"labelFontSize":21.5,"labelFont":"Liberation Sans","labelColor":"#000","labelPadding":6,"format":"~g"}},"y2":{"field":"hi"},"fill":{"field":"lo","type":"quantitative","legend":null,"scale":{"domain":[-0.4,-0.125,0.425,0.975,1.525,1.8],"range":["#000080","#0000ff","#00ffff","#ffff00","#ff0000","#800000"],"interpolate":"rgb"}}}},
{"data":{"values":[{"v":0,"a":0,"b":0.42},{"v":0,"a":0.58,"b":1},{"v":0.5,"a":0,"b":0.42},{"v":0.5,"a":0.58,"b":1},{"v":1,"a":0,"b":0.42},{"v":1,"a":0.58,"b":1},{"v":1.5,"a":0,"b":0.42},{"v":1.5,"a":0.58,"b":1}]},"mark":{"type":"rule","color":"#000","strokeWidth":1},"encoding":{"y":{"field":"v","type":"quantitative"},"x":{"field":"a","type":"quantitative","scale":{"domain":[0,1]},"axis":null},"x2":{"field":"b"}}}
]}
],"spacing":32,"bounds":"flush","resolve":{"scale":{"fill":"independent"}}},
{"width":1000,"height":200,"view":{"stroke":null},"layer":[
{"data":{"values":[{"t":"Postive extreme\u00a0 wind pressure coefficients on a high-rise building.","x":0,"y":68},{"t":"Model geometrical paramters: H=0.5m, B=0.2m, D=0.1m.","x":0,"y":116},{"t":"Wind field paramters:C","x":0,"y":164},{"t":"= 1/400, α=0.3 ,I","x":243,"y":164},{"t":"=0.49, θ=45","x":431,"y":164},{"t":".","x":562,"y":164}]},"mark":{"type":"text","align":"left","baseline":"middle","fontSize":21.5,"fontWeight":"bold","font":"Liberation Sans","color":"#000"},"encoding":{"x":{"field":"x","type":"quantitative","scale":{"domain":[0,1000],"nice":false},"axis":null},"y":{"field":"y","type":"quantitative","scale":{"domain":[0,200],"reverse":true,"nice":false},"axis":null},"text":{"field":"t"}}},
{"data":{"values":[{"t":"L","x":234,"y":178},{"t":"H","x":418,"y":178},{"t":"o","x":554,"y":154}]},"mark":{"type":"text","align":"left","baseline":"middle","fontSize":16,"font":"Liberation Sans","color":"#000"},"encoding":{"x":{"field":"x","type":"quantitative"},"y":{"field":"y","type":"quantitative"},"text":{"field":"t"}}}
]}
],"spacing":28}
